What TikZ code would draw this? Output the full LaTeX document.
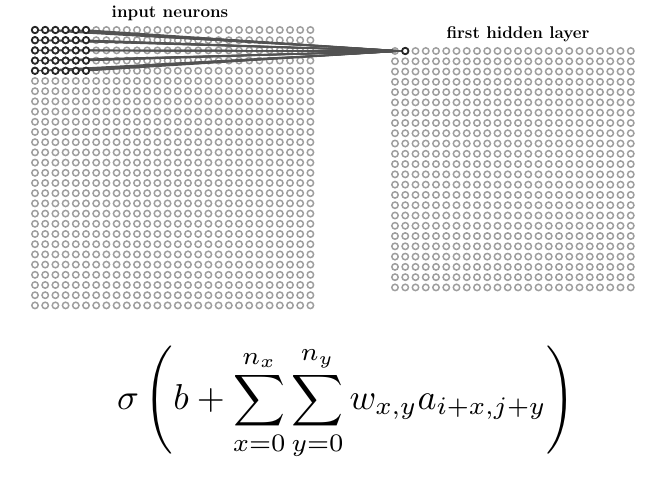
\documentclass[tikz,border=0pt]{standalone}
\usepackage{amsmath}
\begin{document}
\begin{tikzpicture}[x=1pt,y=-1pt,
  neuron/.style={circle,inner sep=0pt,minimum size=6.4pt,draw=black!38,line width=1.5pt},
  active/.style={neuron,draw=black!85,fill=white,line width=1.8pt},
  conn/.style={draw=black!68,line width=1.4pt},
  lbl/.style={font=\fontsize{17}{19}\selectfont\bfseries}]
\useasboundingbox (0,0) rectangle (671,481);
% input layer 28x28
\foreach \r in {0,...,27}{
  \foreach \c in {0,...,27}{
    \node[neuron] (i-\r-\c) at ({35+10.2*\c},{30+10.2*\r}) {};
  }
}
% hidden layer 24x24
\foreach \r in {0,...,23}{
  \foreach \c in {0,...,23}{
    \node[neuron] (h-\r-\c) at ({395+10.25*\c},{51+10.28*\r}) {};
  }
}
% connections
\foreach \r in {0,...,4}{
  \foreach \c in {0,...,5}{
    \draw[conn] (i-\r-\c.center) -- (h-0-1.west);
  }
}
% active neurons
\foreach \r in {0,...,4}{
  \foreach \c in {0,...,5}{
    \node[active] (a-\r-\c) at (i-\r-\c) {};
  }
}
\node[active] (hact) at (h-0-1) {};
% labels
\node[lbl] (inlab) at (170,13) {input neurons};
\node[lbl] (hlab) at (518,34) {first hidden layer};
% formula
\node[scale=3.6,transform shape] (formula) at (346,403)
  {$\displaystyle \sigma\left(b+\sum_{x=0}^{n_x}\sum_{y=0}^{n_y} w_{x,y}a_{i+x,j+y}\right)$};
\end{tikzpicture}
\end{document}
